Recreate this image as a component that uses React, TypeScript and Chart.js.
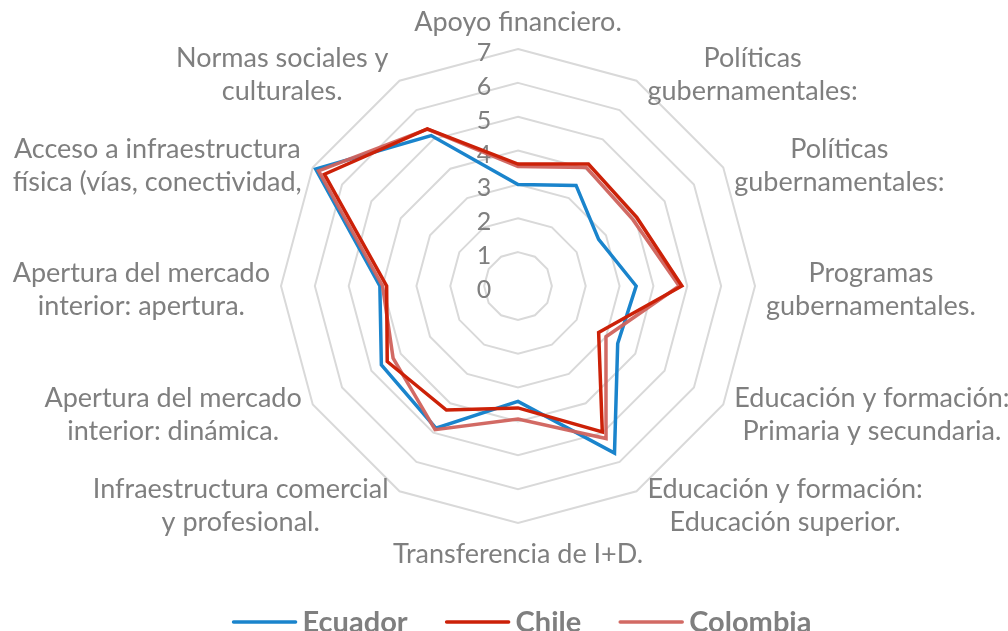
import React, { useEffect, useRef } from "react";
import { Chart, registerables } from "chart.js";

Chart.register(...registerables);

// ---- Data ----
const categories: (string | string[])[] = [
  "Apoyo financiero.",
  ["Políticas", "gubernamentales:"],
  ["Políticas", "gubernamentales:"],
  ["Programas", "gubernamentales."],
  ["Educación y formación:", "Primaria y secundaria."],
  ["Educación y formación:", "Educación superior."],
  "Transferencia de I+D.",
  ["Infraestructura comercial", "y profesional."],
  ["Apertura del mercado", "interior: dinámica."],
  ["Apertura del mercado", "interior: apertura."],
  ["Acceso a infraestructura", "física (vías, conectividad,"],
  ["Normas sociales y", "culturales."],
];

const seriesNames = ["Ecuador", "Chile", "Colombia"];
const ecuador = [3.0, 3.43, 2.75, 3.49, 3.4, 5.7, 3.41, 4.85, 4.66, 4.08, 6.9, 5.13];
const chile = [3.6, 4.16, 4.05, 4.84, 2.75, 4.98, 3.6, 4.23, 4.46, 3.88, 6.6, 5.36];
const colombia = [3.53, 4.04, 3.92, 4.76, 3.0, 5.2, 3.93, 4.9, 4.26, 4.0, 6.8, 5.35];

const scaleMin = 0;
const scaleMax = 7;
const scaleStep = 1;

// ---- Styles ----
const seriesColors = ["#1a84cc", "#cc2108", "rgba(208,98,92,0.95)"];
const seriesOrder = [3, 1, 2];
const textColor = "#7f7f7f";
const gridColor = "#d9d9d9";
const FONT = "Lato, 'Open Sans', sans-serif";

const labelPlugin = {
  id: "excelLabels",
  beforeDatasetsDraw(chart: any) {
    const r = chart.scales.r;
    const ctx = chart.ctx;
    ctx.save();
    ctx.fillStyle = textColor;
    ctx.font = `25px ${FONT}`;
    ctx.textAlign = "center";
    ctx.textBaseline = "middle";
    r.ticks.forEach((t: any) => {
      const d = r.getDistanceFromCenterForValue(t.value);
      ctx.fillText(String(t.value), r.xCenter - 34, r.yCenter - d + 4);
    });
    ctx.restore();
  },
  afterDraw(chart: any) {
    const r = chart.scales.r;
    const ctx = chart.ctx;
    const labels = chart.data.labels as (string | string[])[];
    const n = labels.length;
    const lineH = 33;
    ctx.save();
    ctx.fillStyle = textColor;
    ctx.font = `27px ${FONT}`;
    ctx.textAlign = "center";
    ctx.textBaseline = "middle";
    labels.forEach((lab, i) => {
      const lines = Array.isArray(lab) ? lab : [lab];
      const v = r.getPointPosition(i, r.drawingArea);
      const w = Math.max(...lines.map((l) => ctx.measureText(l).width));
      const h = lines.length * lineH;
      const a = (i * 2 * Math.PI) / n;
      const s = Math.sin(a);
      const c = Math.cos(a);
      let cx: number, cy: number;
      if (Math.abs(s) < 0.01) {
        cx = v.x;
        cy = c > 0 ? v.y - 10 - h / 2 : v.y + 15 + h / 2;
      } else {
        cx = v.x + Math.sign(s) * (11 + w / 2);
        cy = v.y + 4 - 12 * c;
      }
      lines.forEach((l, k) => {
        ctx.fillText(l, cx, cy - h / 2 + lineH / 2 + k * lineH);
      });
    });

    // legend
    ctx.font = `bold 29px ${FONT}`;
    const lineW = 64;
    const gapText = 6;
    const gapItem = 38;
    const items = chart.data.datasets.map((ds: any) => ({
      text: ds.label,
      color: ds.borderColor,
      w: ctx.measureText(ds.label).width,
    }));
    const total =
      items.reduce((acc: number, it: any) => acc + lineW + gapText + it.w, 0) +
      gapItem * (items.length - 1);
    let x = r.xCenter + 4 - total / 2;
    const ly = 622;
    ctx.textAlign = "left";
    ctx.textBaseline = "alphabetic";
    items.forEach((it: any) => {
      ctx.strokeStyle = it.color;
      ctx.lineWidth = 3.5;
      ctx.lineCap = "round";
      ctx.beginPath();
      ctx.moveTo(x + 1, ly);
      ctx.lineTo(x + lineW - 1, ly);
      ctx.stroke();
      x += lineW + gapText;
      ctx.fillStyle = textColor;
      ctx.fillText(it.text, x, 632);
      x += it.w + gapItem;
    });
    ctx.restore();
  },
};

export default function App() {
  const ref = useRef<HTMLCanvasElement>(null);
  useEffect(() => {
    if (!ref.current) return;
    const seriesData = [ecuador, chile, colombia];
    const chart = new Chart(ref.current, {
      type: "radar",
      data: {
        labels: categories,
        datasets: seriesNames.map((name, i) => ({
          label: name,
          data: seriesData[i],
          borderColor: seriesColors[i],
          backgroundColor: "transparent",
          borderWidth: 3.5,
          pointRadius: 0,
          fill: false,
          order: seriesOrder[i],
          tension: 0,
        })),
      },
      options: {
        responsive: true,
        maintainAspectRatio: false,
        animation: false,
        layout: { padding: { left: 281, right: 253, top: 49, bottom: 108 } },
        plugins: {
          legend: { display: false },
          tooltip: { enabled: false },
        },
        scales: {
          r: {
            min: scaleMin,
            max: scaleMax,
            ticks: { stepSize: scaleStep, display: false },
            grid: { color: gridColor, lineWidth: 2 },
            angleLines: { display: false },
            pointLabels: { display: false },
          },
        },
      },
      plugins: [labelPlugin],
    });
    return () => chart.destroy();
  }, []);
  return (
    <div style={{ position: "absolute", left: 0, top: 0, width: 1008, height: 631, background: "#fff" }}>
      <canvas ref={ref} />
    </div>
  );
}
